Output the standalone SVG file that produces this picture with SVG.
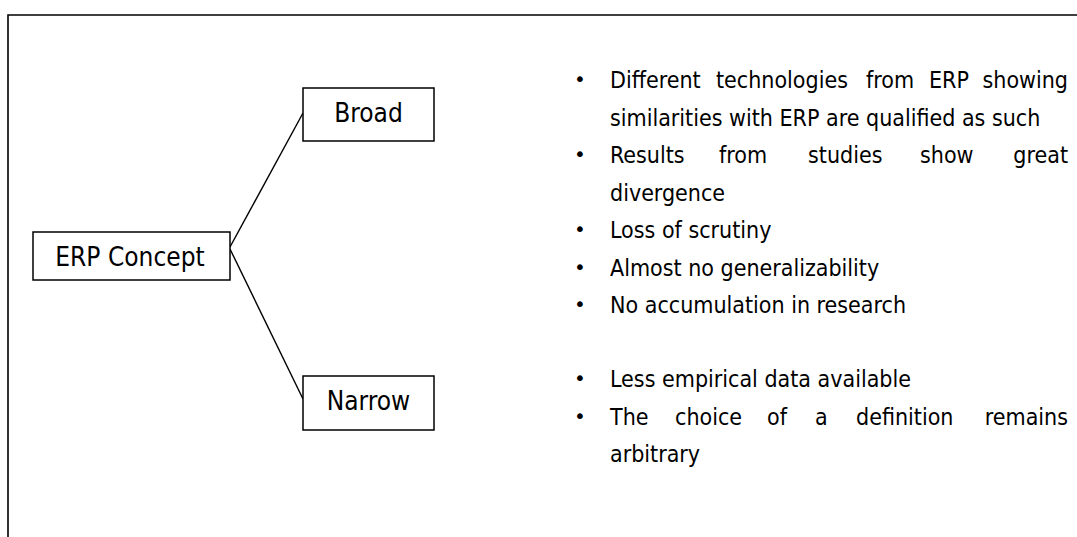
<svg xmlns="http://www.w3.org/2000/svg" width="1077" height="537" viewBox="0 0 1077 537">
<style>
.frame{fill:none;stroke:#000;stroke-width:1.6}
.box{fill:#fff;stroke:#000;stroke-width:1.5}
.lbl{font-family:'DejaVu Sans Condensed','DejaVu Sans',sans-serif;font-stretch:condensed;font-size:26px;fill:#000;text-anchor:middle}
.txt{font-family:'DejaVu Sans Condensed','DejaVu Sans',sans-serif;font-stretch:condensed;font-size:23px;fill:#000}
.bul{font-family:'DejaVu Sans',sans-serif;font-size:20px;fill:#000;text-anchor:middle}
.con{stroke:#000;stroke-width:1.4;fill:none}
</style>
<rect width="1077" height="537" fill="#fff"/>
<g id="frame">
<path class="frame" d="M8,537 V15 H1077"/>
</g>
<g id="connectors">
<line class="con" x1="230" y1="247" x2="303" y2="113"/>
<line class="con" x1="230" y1="249" x2="303" y2="399"/>
</g>
<g id="node-erp">
<rect class="box" x="33" y="232" width="197" height="48"/>
<text class="lbl" x="130" y="266">ERP Concept</text>
</g>
<g id="node-broad">
<rect class="box" x="303" y="88" width="131" height="53"/>
<text class="lbl" x="368.5" y="122">Broad</text>
</g>
<g id="node-narrow">
<rect class="box" x="303" y="376" width="131" height="54"/>
<text class="lbl" x="368.5" y="410">Narrow</text>
</g>
<g id="broad-list">
<text class="bul" x="580" y="86">•</text>
<text class="txt" y="88"><tspan x="610">Different</tspan><tspan x="716">technologies</tspan><tspan x="866">from</tspan><tspan x="929">ERP</tspan><tspan x="1068" text-anchor="end">showing</tspan></text>
<text class="txt" x="610" y="125.5">similarities with ERP are qualified as such</text>
<text class="bul" x="580" y="161">•</text>
<text class="txt" y="163"><tspan x="610">Results</tspan><tspan x="719">from</tspan><tspan x="808">studies</tspan><tspan x="920">show</tspan><tspan x="1068" text-anchor="end">great</tspan></text>
<text class="txt" x="610" y="200.5">divergence</text>
<text class="bul" x="580" y="236">•</text>
<text class="txt" x="610" y="238">Loss of scrutiny</text>
<text class="bul" x="580" y="273.5">•</text>
<text class="txt" x="610" y="275.5">Almost no generalizability</text>
<text class="bul" x="580" y="311">•</text>
<text class="txt" x="610" y="313">No accumulation in research</text>
</g>
<g id="narrow-list">
<text class="bul" x="580" y="385">•</text>
<text class="txt" x="610" y="387">Less empirical data available</text>
<text class="bul" x="580" y="422.5">•</text>
<text class="txt" y="424.5"><tspan x="610">The</tspan><tspan x="675">choice</tspan><tspan x="767">of</tspan><tspan x="815">a</tspan><tspan x="856">definition</tspan><tspan x="1068" text-anchor="end">remains</tspan></text>
<text class="txt" x="610" y="462">arbitrary</text>
</g>
</svg>
